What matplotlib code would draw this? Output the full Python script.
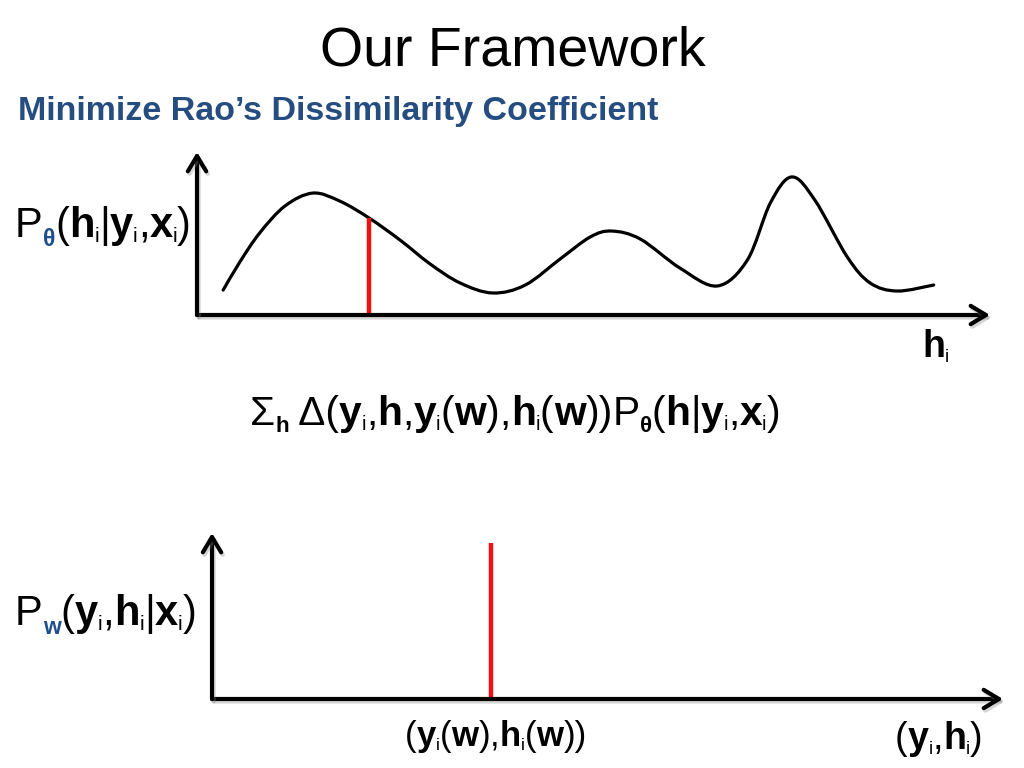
import matplotlib
matplotlib.use("Agg")
import matplotlib.pyplot as plt
import matplotlib.patheffects as pe
from matplotlib.path import Path
from matplotlib.patches import PathPatch

W, H = 1024, 768
FONT = "Liberation Sans"
BLUE = "#1f4e8f"
RED = "#ee1111"

# top curve, P_theta(h | y, x) (h and p on a 0-100 scale)
curve_h = [3.3, 5.4, 7.9, 11.1, 14.6, 18.0, 21.7, 25.6, 29.4, 33.2, 37.3, 41.4, 45.8,
           49.6, 52.3, 55.9, 60.9, 65.6, 69.4, 72.3, 75.0, 77.9, 82.0, 84.9, 88.3, 92.9]
curve_p = [15.3, 32.5, 50.3, 66.9, 74.8, 69.9, 59.5, 46.0, 31.3, 19.6, 13.5, 18.4, 34.4,
           47.9, 51.5, 46.6, 28.8, 17.8, 33.7, 68.7, 84.7, 70.6, 35.6, 19.6, 14.7, 18.4]
marker_top_h, marker_top_p = 21.7, 59.5

# bottom plot, P_w(y, h | x): a single spike
marker_bot_h, marker_bot_p = 35.3, 94.0

title = "Our Framework"
subtitle = "Minimize Rao\u2019s Dissimilarity Coefficient"

label_top = [("P", "r"), ("\u03b8", "theta"), ("(", "r"), ("h", "b"), ("i", "s"), ("|", "r"),
             ("y", "b"), ("i", "s"), (",", "r"), ("x", "b"), ("i", "s"), (")", "r")]
label_bot = [("P", "r"), ("w", "theta"), ("(", "r"), ("y", "b"), ("i", "s"), (",", "r"),
             ("h", "b"), ("i", "s"), ("|", "r"), ("x", "b"), ("i", "s"), (")", "r")]
formula = [("\u03a3", "r"), ("h", "sb"), (" \u0394(", "r"), ("y", "b"), ("i", "s"), (",", "r"),
           ("h", "b"), (",", "r"), ("y", "b"), ("i", "s"), ("(", "r"), ("w", "b"), (")", "r"),
           (",", "r"), ("h", "b"), ("i", "s"), ("(", "r"), ("w", "b"), ("))", "r"), ("P", "r"),
           ("\u03b8", "sb"), ("(", "r"), ("h", "b"), ("|", "r"), ("y", "b"), ("i", "s"),
           (",", "r"), ("x", "b"), ("i", "s"), (")", "r")]
label_h = [("h", "b"), ("i", "s")]
label_wpt = [("(", "r"), ("y", "b"), ("i", "s"), ("(", "r"), ("w", "b"), (")", "r"), (",", "r"),
             ("h", "b"), ("i", "s"), ("(", "r"), ("w", "b"), ("))", "r")]
label_yh = [("(", "r"), ("y", "b"), ("i", "s"), (",", "r"), ("h", "b"), ("i", "s"), (")", "r")]


def rich(fig, px, py, pieces, size):
    # draw a run of text pieces left to right, baseline at pixel (px, py)
    rend = fig.canvas.get_renderer()
    x = px
    for s, st in pieces:
        fs, wt, col, dy = size, "normal", "black", 0.0
        if st == "b":
            wt = "bold"
        elif st == "s":
            fs, dy = size * 0.5, size * 0.12
        elif st == "sb":
            fs, wt, dy = size * 0.55, "bold", size * 0.16
        elif st == "theta":
            fs, wt, col, dy = size * 0.55, "bold", BLUE, size * 0.22
        t = fig.text(x / W, 1 - (py + dy * 100 / 72) / H, s, ha="left", va="baseline",
                     fontsize=fs, fontweight=wt, color=col, family=FONT)
        x += t.get_window_extent(rend).width


def smooth_path(xs, ys):
    # catmull-rom through the read points, as cubic bezier segments
    pts = list(zip(xs, ys))
    pts = [pts[0]] + pts + [pts[-1]]
    verts = [pts[1]]
    codes = [Path.MOVETO]
    for i in range(1, len(pts) - 2):
        p0, p1, p2, p3 = pts[i - 1], pts[i], pts[i + 1], pts[i + 2]
        c1 = (p1[0] + (p2[0] - p0[0]) / 6, p1[1] + (p2[1] - p0[1]) / 6)
        c2 = (p2[0] - (p3[0] - p1[0]) / 6, p2[1] - (p3[1] - p1[1]) / 6)
        verts += [c1, c2, p2]
        codes += [Path.CURVE4] * 3
    return Path(verts, codes)


def arrows(ax):
    for end in [(1, 0), (0, 1)]:
        ann = ax.annotate("", xy=end, xytext=(0, 0), xycoords="axes fraction",
                          arrowprops=dict(arrowstyle="->,head_length=0.5,head_width=0.3",
                                          lw=3, color="black", mutation_scale=22,
                                          shrinkA=0, shrinkB=0), annotation_clip=False)
        ann.arrow_patch.set_path_effects([
            pe.SimpleLineShadow(offset=(1.2, -1.8), shadow_color="#888888", alpha=0.35),
            pe.Normal()])


fig = plt.figure(figsize=(W / 100, H / 100), dpi=100)
fig.patch.set_facecolor("white")

fig.text(513 / W, 1 - 66 / H, title, ha="center", va="baseline", fontsize=40, family=FONT)
fig.text(18 / W, 1 - 120 / H, subtitle, ha="left", va="baseline", fontsize=24.5,
         fontweight="bold", color="#264d80", family=FONT)

# top plot
ax1 = fig.add_axes([197 / W, 1 - 315 / H, (990 - 197) / W, (315 - 152) / H])
ax1.set_xlim(0, 100)
ax1.set_ylim(0, 100)
ax1.axis("off")
ax1.add_patch(PathPatch(smooth_path(curve_h, curve_p), fill=False, lw=2.3, ec="black",
                        capstyle="round", clip_on=False))
ax1.plot([marker_top_h, marker_top_h], [0, marker_top_p], color=RED, lw=3.2,
         solid_capstyle="butt", clip_on=False)
arrows(ax1)

# bottom plot
ax2 = fig.add_axes([212 / W, 1 - 699 / H, (1003 - 212) / W, (699 - 533) / H])
ax2.set_xlim(0, 100)
ax2.set_ylim(0, 100)
ax2.axis("off")
ax2.plot([marker_bot_h, marker_bot_h], [0, marker_bot_p], color=RED, lw=3.2,
         solid_capstyle="butt", clip_on=False)
arrows(ax2)

rich(fig, 15, 237, label_top, 30)
rich(fig, 15, 625, label_bot, 30)
rich(fig, 250, 425, formula, 29.3)
rich(fig, 922, 357, label_h, 27)
rich(fig, 405, 746, label_wpt, 25)
rich(fig, 895, 749, label_yh, 27)

fig.savefig("out.png", dpi=100, facecolor="white")
